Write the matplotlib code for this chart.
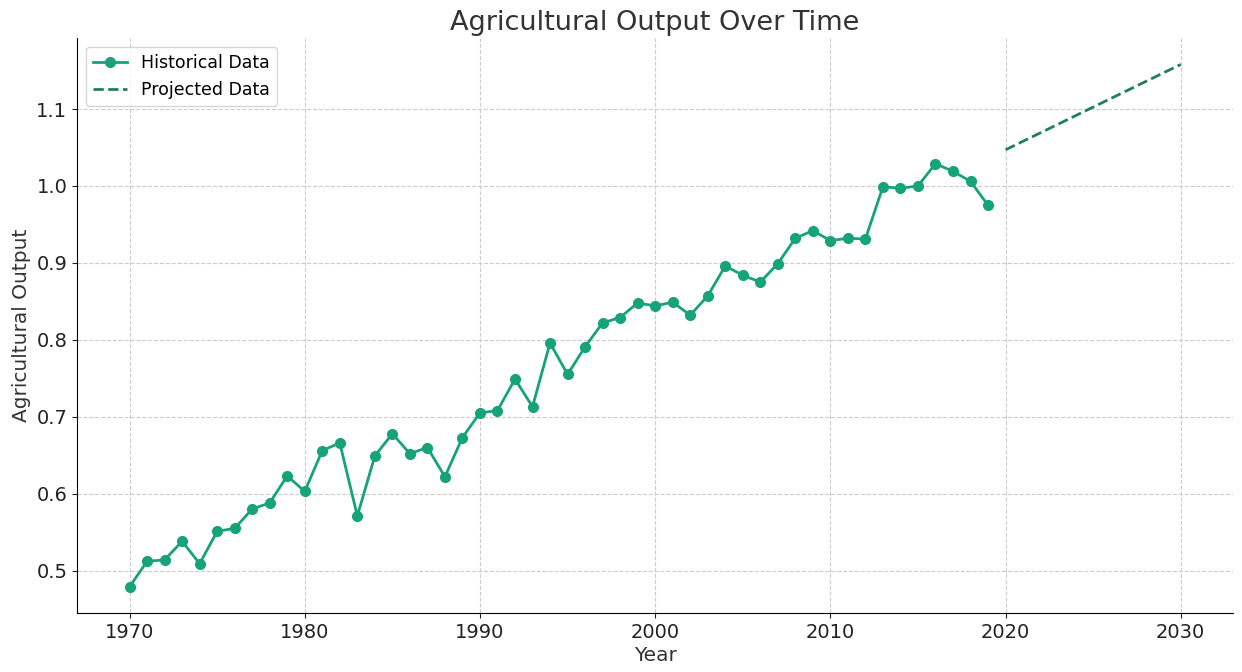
import numpy as np
import matplotlib.pyplot as plt

# historical series
years = np.arange(1970, 2020)
output = [0.479, 0.512, 0.514, 0.538, 0.509, 0.551, 0.555, 0.580, 0.588, 0.623,
          0.603, 0.656, 0.666, 0.571, 0.649, 0.678, 0.652, 0.660, 0.622, 0.673,
          0.705, 0.708, 0.749, 0.713, 0.796, 0.755, 0.791, 0.822, 0.829, 0.848,
          0.844, 0.849, 0.832, 0.857, 0.896, 0.884, 0.875, 0.899, 0.932, 0.942,
          0.929, 0.932, 0.931, 0.999, 0.997, 1.000, 1.029, 1.019, 1.006, 0.975]

# projection end points
proj_years = [2020, 2030]
proj_output = [1.047, 1.158]

fig, ax = plt.subplots(figsize=(12.42, 6.72), dpi=100)
fig.subplots_adjust(left=0.062, right=0.993, top=0.943, bottom=0.088)

ax.plot(years, output, marker='o', markersize=7, linewidth=2,
        color='#17a37a', label='Historical Data')
ax.plot(proj_years, proj_output, linestyle='--', linewidth=2,
        color='#1f7f60', label='Projected Data')

ax.set_title('Agricultural Output Over Time', fontsize=19.5, color='#333333')
ax.set_xlabel('Year', fontsize=14.5, color='#333333', labelpad=3)
ax.set_ylabel('Agricultural Output', fontsize=14.5, color='#333333')
ax.tick_params(labelsize=14, colors='#222222')
ax.set_xticks(range(1970, 2031, 10))

ax.grid(True, linestyle='--', color='#cccccc', linewidth=0.8)
ax.spines['top'].set_visible(False)
ax.spines['right'].set_visible(False)

ax.legend(loc='upper left', fontsize=12.5)

plt.savefig('out.png')
